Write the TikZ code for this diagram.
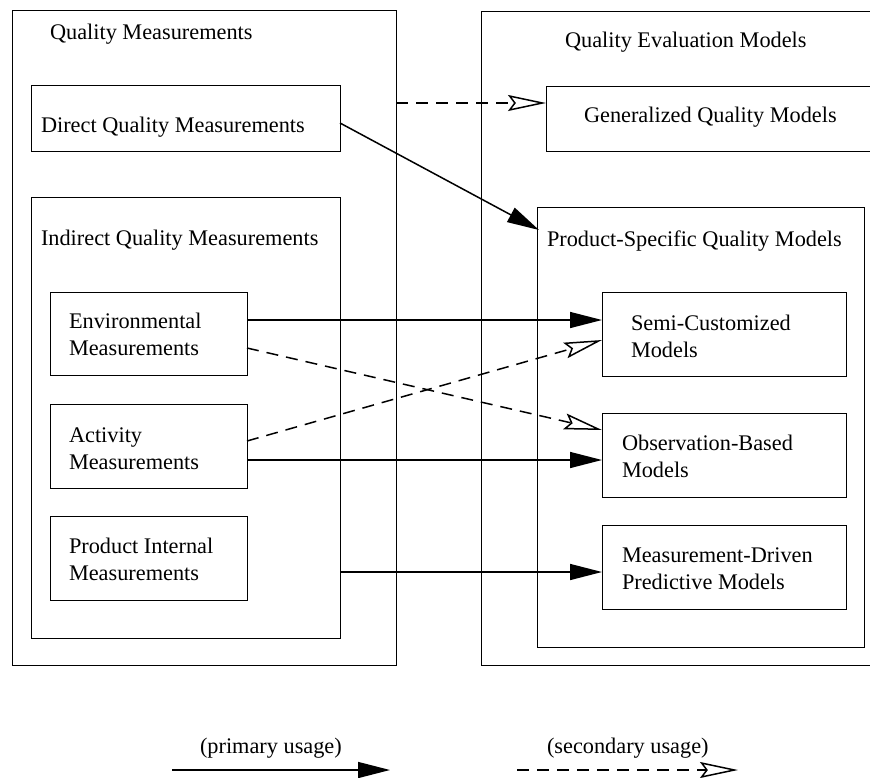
\documentclass[tikz,border=0pt]{standalone}
\usepackage{fontspec}
\setmainfont{Liberation Serif}
\usetikzlibrary{arrows.meta,calc}
\begin{document}
\begin{tikzpicture}[x=1pt,y=-1pt,
  box/.style={draw, line width=1pt, inner sep=0pt, outer sep=0pt},
  lbl/.style={inner sep=0pt, outer sep=0pt, anchor=base west, font=\fontsize{22.3}{27.5}\selectfont},
  prim/.style={line width=1.5pt, -{Triangle[length=32pt,width=16pt]}},
  sec/.style={line width=1.5pt, dash pattern=on 12pt off 8pt, -{Stealth[open,length=38pt,width=16pt,inset=6pt]}}]
\useasboundingbox (0,0) rectangle (870,777);
\clip (0,0) rectangle (870,777);
% left side
\node[box, minimum width=384, minimum height=655] (qm) at (204,337.5) {};
\node[box, minimum width=309, minimum height=66] (direct) at (185.5,118) {};
\node[box, minimum width=309, minimum height=441] (indirect) at (185.5,417.5) {};
\node[box, minimum width=197, minimum height=83] (env) at (148.5,333.5) {};
\node[box, minimum width=197, minimum height=84] (act) at (148.5,446) {};
\node[box, minimum width=197, minimum height=84] (pim) at (148.5,558) {};
% right side
\node[box, minimum width=419, minimum height=654] (qem) at (690.5,338) {};
\node[box, minimum width=354, minimum height=65] (gen) at (723,118.5) {};
\node[box, minimum width=327, minimum height=440] (psqm) at (700.5,427) {};
\node[box, minimum width=244, minimum height=84] (semi) at (724,334) {};
\node[box, minimum width=244, minimum height=84] (obs) at (724,455) {};
\node[box, minimum width=244, minimum height=84] (mdp) at (724,567) {};
% texts
\node[lbl] (qmt) at (50,39) {Quality Measurements};
\node[lbl] (directt) at (41,132) {Direct Quality Measurements};
\node[lbl] (indirectt) at (41,245) {Indirect Quality Measurements};
\node[lbl] (envt) at (69,328) {\begin{tabular}[t]{@{}l@{}}Environmental\\Measurements\end{tabular}};
\node[lbl] (actt) at (69,442) {\begin{tabular}[t]{@{}l@{}}Activity\\Measurements\end{tabular}};
\node[lbl] (pimt) at (69,553) {\begin{tabular}[t]{@{}l@{}}Product Internal\\Measurements\end{tabular}};
\node[lbl] (qemt) at (565,47) {Quality Evaluation Models};
\node[lbl] (gent) at (584,122) {Generalized Quality Models};
\node[lbl] (psqmt) at (547,246) {Product-Specific Quality Models};
\node[lbl] (semit) at (631,330) {\begin{tabular}[t]{@{}l@{}}Semi-Customized\\Models\end{tabular}};
\node[lbl] (obst) at (622,450) {\begin{tabular}[t]{@{}l@{}}Observation-Based\\Models\end{tabular}};
\node[lbl] (mdpt) at (622,562) {\begin{tabular}[t]{@{}l@{}}Measurement-Driven\\Predictive Models\end{tabular}};
% helper coordinates
\coordinate (y103) at (0,103);
\coordinate (y320) at (0,320);
\coordinate (y348) at (0,348);
\coordinate (y430) at (0,430);
\coordinate (y441) at (0,441);
\coordinate (y340) at (0,340);
\coordinate (y460) at (0,460);
\coordinate (y572) at (0,572);
% connectors
\draw[sec] (qm.east |- y103) -- (gen.west |- y103);
\draw[prim] ($(direct.east)+(0,5)$) -- ($(psqm.north west)+(2,23)$);
\draw[prim] (env.east |- y320) -- (semi.west |- y320);
\draw[sec] (env.east |- y348) -- (obs.west |- y430);
\draw[sec] (act.east |- y441) -- (semi.west |- y340);
\draw[prim] (act.east |- y460) -- (obs.west |- y460);
\draw[prim] (indirect.east |- y572) -- (mdp.west |- y572);
% legend
\coordinate (lp1) at (172,770);
\coordinate (lp2) at (390,770);
\coordinate (ls1) at (517,770);
\coordinate (ls2) at (738,770);
\node[lbl] (lpt) at (200,753) {(primary usage)};
\node[lbl] (lst) at (547,753) {(secondary usage)};
\draw[prim] (lp1) -- (lp2);
\draw[sec] (ls1) -- (ls2);
\end{tikzpicture}
\end{document}
